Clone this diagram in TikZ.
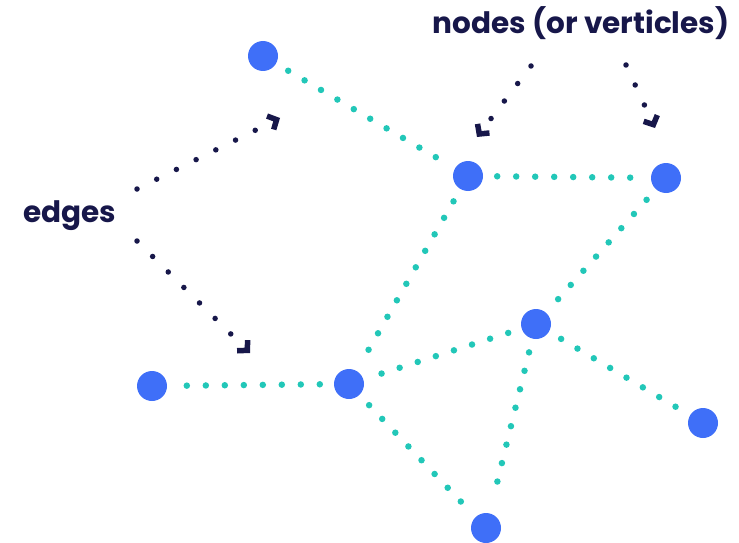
\documentclass[tikz,border=0pt]{standalone}
\usepackage{fontspec}
\setmainfont{Poppins}
\usetikzlibrary{arrows.meta,positioning}
\definecolor{vblue}{HTML}{3F6FF8}
\definecolor{eteal}{HTML}{22C7B8}
\definecolor{inkblue}{HTML}{17174A}

\begin{document}
\begin{tikzpicture}[
    x=1pt,y=-1pt,
    vertex/.style={circle,fill=vblue,minimum size=30pt,inner sep=0pt},
    link/.style={draw=eteal,line width=6.5pt,line cap=round,dash pattern=on 0pt off 19pt,
        shorten <=14pt,shorten >=14pt},
    pointer/.style={draw=inkblue,line width=5.5pt,line cap=round,dash pattern=on 0pt off 22pt,
        -{Straight Barb[length=7pt,width=15pt]}},
    lbl/.style={anchor=base,text=inkblue,font=\bfseries\fontsize{29.5}{34}\selectfont}
]
\useasboundingbox (0,0) rectangle (739,543);

% vertices
\node[vertex] (a) at (263,56) {};
\node[vertex] (b) at (468,176) {};
\node[vertex] (c) at (666,178) {};
\node[vertex] (d) at (536,324) {};
\node[vertex] (e) at (349,384) {};
\node[vertex] (f) at (152,386) {};
\node[vertex] (g) at (703,423) {};
\node[vertex] (h) at (486,528) {};

% edges
\draw[link] (a) -- (b);
\draw[link] (b) -- (c);
\draw[link] (b) -- (e);
\draw[link] (c) -- (d);
\draw[link] (d) -- (e);
\draw[link] (e) -- (f);
\draw[link] (d) -- (g);
\draw[link] (d) -- (h);
\draw[link] (e) -- (h);

% labels
\node[lbl] (edgelbl) at (70,222) {edges};
\node[lbl] (nodelbl) at (581,34) {nodes (or verticles)};

% pointers
\coordinate (p1s) at (137,189);
\coordinate (p1e) at (280,118);
\coordinate (p2s) at (137,241);
\coordinate (p2e) at (250,353);
\coordinate (p3s) at (531,66);
\coordinate (p3e) at (477,137);
\coordinate (p4s) at (626,65);
\coordinate (p4e) at (655,128);
\draw[pointer] (p1s) -- (p1e);
\draw[pointer] (p2s) -- (p2e);
\draw[pointer] (p3s) -- (p3e);
\draw[pointer] (p4s) -- (p4e);
\end{tikzpicture}
\end{document}
